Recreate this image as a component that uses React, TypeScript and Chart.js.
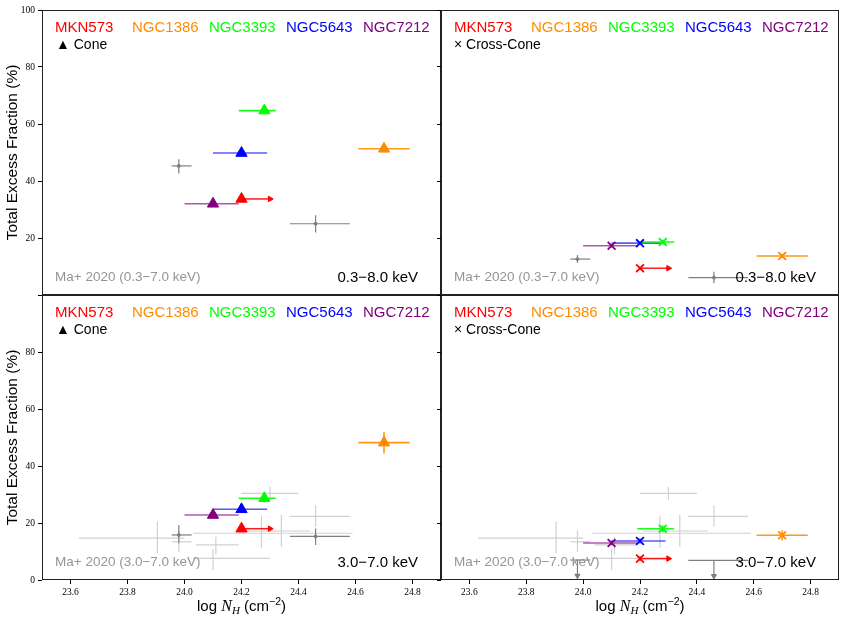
import React, { useEffect, useRef } from "react";
import { Chart, registerables } from "chart.js";

Chart.register(...registerables);

const W = 847;
const H = 618;

// ---------------- data ----------------
const GALAXIES = ["MKN573", "NGC1386", "NGC3393", "NGC5643", "NGC7212"];
const GALAXY_COLORS = ["#ff0000", "#ff8c00", "#00ff00", "#0000ff", "#800080"];
const GALAXY_LINE_COLORS = [
  "rgba(255,0,0,0.9)",
  "rgba(255,140,0,0.9)",
  "rgba(0,255,0,0.9)",
  "rgba(0,0,255,0.65)",
  "rgba(128,0,128,0.65)",
];

const LOG_NH = [24.2, 24.7, 24.28, 24.2, 24.1];
const LOG_NH_LOW = [24.2, 24.61, 24.19, 24.1, 24.0];
const LOG_NH_HIGH = [24.3, 24.79, 24.32, 24.29, 24.19];
const NH_LOWER_LIMIT = [true, false, false, false, false];

const CONE_SOFT = [33.7, 51.3, 64.7, 49.8, 32.0];
const CONE_SOFT_ERR = [0.8, 1.0, 1.0, 0.9, 0.8];
const CROSS_SOFT = [9.4, 13.7, 18.6, 18.2, 17.3];
const CROSS_SOFT_ERR = [0.5, 0.8, 0.8, 0.6, 0.6];
const CONE_HARD = [18.0, 48.2, 28.7, 24.8, 22.8];
const CONE_HARD_ERR = [1.0, 3.8, 1.5, 1.2, 1.0];
const CROSS_HARD = [7.5, 15.7, 18.0, 13.7, 13.0];
const CROSS_HARD_ERR = [0.8, 1.8, 1.2, 0.9, 0.8];

// Ma+ 2020 comparison points
const MA_NH = [23.98, 24.46];
const MA_NH_LOW = [23.955, 24.37];
const MA_NH_HIGH = [24.025, 24.58];
const MA_CONE_SOFT = [45.3, 25.0];
const MA_CONE_SOFT_LOW = [42.6, 21.9];
const MA_CONE_SOFT_HIGH = [47.6, 28.0];
const MA_CROSS_SOFT = [12.6, 6.1];
const MA_CROSS_SOFT_LOW = [11.3, 4.1];
const MA_CROSS_SOFT_HIGH = [14.0, 8.2];
const MA_CONE_HARD = [15.8, 15.3];
const MA_CONE_HARD_LOW = [12.9, 12.3];
const MA_CONE_HARD_HIGH = [19.3, 18.1];
const MA_CROSS_HARD_UPPER = [7.0, 6.9];

// light grey background points (3.0-7.0 keV panels)
const BG_NH = [23.905, 23.98, 24.11, 24.1, 24.27, 24.34, 24.3, 24.46];
const BG_NH_LOW = [23.63, 23.955, 24.04, 24.03, 24.03, 24.21, 24.2, 24.37];
const BG_NH_HIGH = [24.0, 24.025, 24.19, 24.3, 24.59, 24.44, 24.4, 24.58];
const BG_FRAC = [14.7, 13.4, 12.3, 7.6, 16.4, 17.2, 30.4, 22.3];
const BG_FRAC_LOW = [9.4, 9.9, 9.0, 3.5, 11.3, 11.7, 28.1, 18.7];
const BG_FRAC_HIGH = [20.5, 17.5, 15.2, 11.0, 22.6, 22.8, 32.7, 26.2];

const X_TICKS = [23.6, 23.8, 24.0, 24.2, 24.4, 24.6, 24.8];
const Y_TICKS = [0, 20, 40, 60, 80, 100];

// ---------------- styles ----------------
const SANS = "'Liberation Sans', Arial, 'DejaVu Sans', sans-serif";
const SERIF = "'Liberation Serif', 'DejaVu Serif', serif";
const DARK = "#7f7f7f";
const LIGHT = "#d0d0d0";
const LL_LEN = 0.1; // lower-limit arrow length (dex)
const UL_LEN = 5.5; // upper-limit arrow length (%)

type Panel = {
  area: [number, number, number, number];
  left: boolean;
  bottom: boolean;
  cone: boolean;
  vals: number[];
  errs: number[];
  ma?: number[];
  maLow?: number[];
  maHigh?: number[];
  maUpper?: number[];
  background: boolean;
  band: string;
  maLabel: string;
  hideTick: number;
};

const PANELS: Panel[] = [
  {
    area: [42, 10, 441, 295], left: true, bottom: false, cone: true,
    vals: CONE_SOFT, errs: CONE_SOFT_ERR,
    ma: MA_CONE_SOFT, maLow: MA_CONE_SOFT_LOW, maHigh: MA_CONE_SOFT_HIGH,
    background: false, band: "0.3\u22128.0 keV", maLabel: "Ma+ 2020 (0.3\u22127.0 keV)", hideTick: 0,
  },
  {
    area: [441, 10, 839, 295], left: false, bottom: false, cone: false,
    vals: CROSS_SOFT, errs: CROSS_SOFT_ERR,
    ma: MA_CROSS_SOFT, maLow: MA_CROSS_SOFT_LOW, maHigh: MA_CROSS_SOFT_HIGH,
    background: false, band: "0.3\u22128.0 keV", maLabel: "Ma+ 2020 (0.3\u22127.0 keV)", hideTick: 0,
  },
  {
    area: [42, 295, 441, 580], left: true, bottom: true, cone: true,
    vals: CONE_HARD, errs: CONE_HARD_ERR,
    ma: MA_CONE_HARD, maLow: MA_CONE_HARD_LOW, maHigh: MA_CONE_HARD_HIGH,
    background: true, band: "3.0\u22127.0 keV", maLabel: "Ma+ 2020 (3.0\u22127.0 keV)", hideTick: 100,
  },
  {
    area: [441, 295, 839, 580], left: false, bottom: true, cone: false,
    vals: CROSS_HARD, errs: CROSS_HARD_ERR,
    maUpper: MA_CROSS_HARD_UPPER,
    background: true, band: "3.0\u22127.0 keV", maLabel: "Ma+ 2020 (3.0\u22127.0 keV)", hideTick: 100,
  },
];

function seg(x0: number, y0: number, x1: number, y1: number) {
  return [{ x: x0, y: y0 }, { x: x1, y: y1 }];
}

function lineDs(data: any[], color: string, width: number, order: number) {
  return {
    type: "line",
    data,
    borderColor: color,
    borderWidth: width,
    pointRadius: 0,
    pointHoverRadius: 0,
    fill: false,
    tension: 0,
    order,
  };
}

function pointDs(x: number, y: number, style: string, r: number, rot: number, color: string, order: number) {
  return {
    type: "scatter",
    data: [{ x, y }],
    pointStyle: style,
    pointRadius: r,
    pointHoverRadius: r,
    pointRotation: rot,
    pointBackgroundColor: color,
    pointBorderColor: color,
    pointBorderWidth: 1,
    order,
  };
}

function buildDatasets(p: Panel) {
  const ds: any[] = [];
  // colored markers (on top)
  ds.push({
    type: "scatter",
    data: LOG_NH.map((x, i) => ({ x, y: p.vals[i] })),
    pointStyle: p.cone ? "triangle" : "crossRot",
    pointRadius: p.cone ? 6.5 : 5.5,
    pointHoverRadius: p.cone ? 6.5 : 5.5,
    pointBackgroundColor: GALAXY_COLORS,
    pointBorderColor: GALAXY_COLORS,
    pointBorderWidth: p.cone ? 1 : 1.8,
    order: 0,
  });
  // colored error bars / limits
  GALAXIES.forEach((_, i) => {
    const y = p.vals[i];
    const x = LOG_NH[i];
    if (NH_LOWER_LIMIT[i]) {
      ds.push(lineDs(seg(x, y, x + LL_LEN, y), GALAXY_LINE_COLORS[i], 1.5, 1));
      ds.push(pointDs(x + LL_LEN, y, "triangle", 3.2, 90, GALAXY_COLORS[i], 1));
    } else {
      ds.push(lineDs(seg(LOG_NH_LOW[i], y, LOG_NH_HIGH[i], y), GALAXY_LINE_COLORS[i], 1.6, 1));
    }
    ds.push(lineDs(seg(x, y - p.errs[i], x, y + p.errs[i]), GALAXY_LINE_COLORS[i], 1.6, 1));
  });
  // Ma+ 2020
  MA_NH.forEach((x, i) => {
    if (p.maUpper) {
      const y = p.maUpper[i];
      ds.push(lineDs(seg(MA_NH_LOW[i], y, MA_NH_HIGH[i], y), DARK, 1.2, 3));
      ds.push(lineDs(seg(x, y, x, y - UL_LEN), DARK, 1.2, 3));
      ds.push(pointDs(x, y - UL_LEN, "triangle", 3, 180, DARK, 2));
    } else if (p.ma && p.maLow && p.maHigh) {
      const y = p.ma[i];
      ds.push(lineDs(seg(MA_NH_LOW[i], y, MA_NH_HIGH[i], y), DARK, 1.2, 3));
      ds.push(lineDs(seg(x, p.maLow[i], x, p.maHigh[i]), DARK, 1.2, 3));
      ds.push(pointDs(x, y, "circle", 1.5, 0, DARK, 2));
    }
  });
  // background points
  if (p.background) {
    BG_NH.forEach((x, i) => {
      ds.push(lineDs(seg(BG_NH_LOW[i], BG_FRAC[i], BG_NH_HIGH[i], BG_FRAC[i]), LIGHT, 1.2, 4));
      ds.push(lineDs(seg(x, BG_FRAC_LOW[i], x, BG_FRAC_HIGH[i]), LIGHT, 1.2, 4));
    });
  }
  return ds;
}

const annotPlugin = {
  id: "annot",
  afterDraw(chart: any, _args: any, opts: any) {
    const p: Panel = opts.panel;
    if (!p) return;
    const ctx = chart.ctx as CanvasRenderingContext2D;
    const a = chart.chartArea;
    const [L, T, R, B] = p.area;
    ctx.save();
    // frame
    ctx.strokeStyle = "#222";
    ctx.lineWidth = 1;
    ctx.strokeRect(Math.round(a.left) + 0.5, Math.round(a.top) + 0.5, Math.round(a.right - a.left) - 1, Math.round(a.bottom - a.top) - 1);

    ctx.textBaseline = "alphabetic";
    ctx.textAlign = "left";
    // legend names
    ctx.font = `15px ${SANS}`;
    GALAXIES.forEach((g, i) => {
      ctx.fillStyle = GALAXY_COLORS[i];
      ctx.fillText(g, L + 13 + i * 77, T + 21.5);
    });
    // marker kind
    ctx.font = `14px ${SANS}`;
    ctx.fillStyle = "#000";
    if (p.cone) {
      ctx.fillText("\u25B2 Cone", L + 14, T + 38.5);
    } else {
      ctx.fillText("\u00D7 Cross-Cone", L + 13, T + 38.5);
    }
    // Ma+ label
    ctx.font = `13.5px ${SANS}`;
    ctx.fillStyle = "#959595";
    ctx.fillText(p.maLabel, L + 13, B - 14.5);
    // band label
    ctx.font = `15px ${SANS}`;
    ctx.fillStyle = "#000";
    ctx.textAlign = "right";
    ctx.fillText(p.band, R - 23, B - 13.5);

    // x-axis title
    if (p.bottom) {
      const parts = [
        { t: "log ", f: `15px ${SANS}`, dy: 0 },
        { t: "N", f: `italic 16px ${SERIF}`, dy: 0 },
        { t: "H", f: `italic 11px ${SERIF}`, dy: 3 },
        { t: " (cm", f: `15px ${SANS}`, dy: 0 },
        { t: "\u22122", f: `10.5px ${SANS}`, dy: -6 },
        { t: ")", f: `15px ${SANS}`, dy: 0 },
      ];
      let total = 0;
      const widths = parts.map((pt) => {
        ctx.font = pt.f;
        const w = ctx.measureText(pt.t).width;
        total += w;
        return w;
      });
      let x = (L + R) / 2 - total / 2;
      ctx.textAlign = "left";
      parts.forEach((pt, i) => {
        ctx.font = pt.f;
        ctx.fillText(pt.t, x, 611 + pt.dy);
        x += widths[i];
      });
    }
    ctx.restore();
  },
};

function PanelChart({ p }: { p: Panel }) {
  const ref = useRef<HTMLCanvasElement | null>(null);
  useEffect(() => {
    if (!ref.current) return;
    const [L, T, R, B] = p.area;
    const yW = p.left ? L : 10;
    const xH = 30;
    const tickGrid = {
      display: true,
      drawOnChartArea: false,
      drawTicks: true,
      tickLength: 4,
      color: "#000",
      lineWidth: 1,
    };
    const chart = new Chart(ref.current, {
      type: "scatter",
      data: { datasets: buildDatasets(p) as any },
      plugins: [annotPlugin as any],
      options: {
        responsive: false,
        animation: false,
        events: [],
        layout: {
          padding: {
            left: L - yW,
            top: T,
            right: W - R,
            bottom: p.bottom ? H - B - xH : H - B,
          },
        },
        scales: {
          x: {
            type: "linear",
            min: 23.5,
            max: 24.9,
            display: p.bottom,
            afterBuildTicks: (s: any) => {
              s.ticks = X_TICKS.map((v) => ({ value: v }));
            },
            afterFit: (s: any) => {
              s.height = p.bottom ? xH : 0;
            },
            ticks: {
              autoSkip: false,
              maxRotation: 0,
              padding: 3,
              color: "#000",
              font: { family: SERIF, size: 9.5 },
              callback: (v: any) => Number(v).toFixed(1),
            },
            grid: tickGrid,
            border: { display: false },
          },
          y: {
            type: "linear",
            min: 0,
            max: 100,
            afterBuildTicks: (s: any) => {
              s.ticks = Y_TICKS.map((v) => ({ value: v }));
            },
            afterFit: (s: any) => {
              s.width = yW;
            },
            ticks: {
              display: p.left,
              padding: 3,
              color: "#000",
              font: { family: SERIF, size: 9.5 },
              callback: (v: any) => (Number(v) === p.hideTick ? "" : String(v)),
            },
            grid: tickGrid,
            border: { display: false },
            title: {
              display: p.left,
              text: "Total Excess Fraction (%)",
              color: "#000",
              font: { family: SANS, size: 15.5 },
              padding: { top: 3, bottom: 0 },
            },
          },
        } as any,
        plugins: {
          legend: { display: false },
          tooltip: { enabled: false },
          annot: { panel: p },
        } as any,
      },
    });
    return () => chart.destroy();
  }, [p]);
  return (
    <canvas
      ref={ref}
      width={W}
      height={H}
      style={{ position: "absolute", left: 0, top: 0, width: W, height: H }}
    />
  );
}

export default function App() {
  return (
    <div
      style={{
        position: "absolute",
        left: 0,
        top: 0,
        width: W,
        height: H,
        background: "#fff",
        overflow: "hidden",
      }}
    >
      {PANELS.map((p, i) => (
        <PanelChart key={i} p={p} />
      ))}
    </div>
  );
}
